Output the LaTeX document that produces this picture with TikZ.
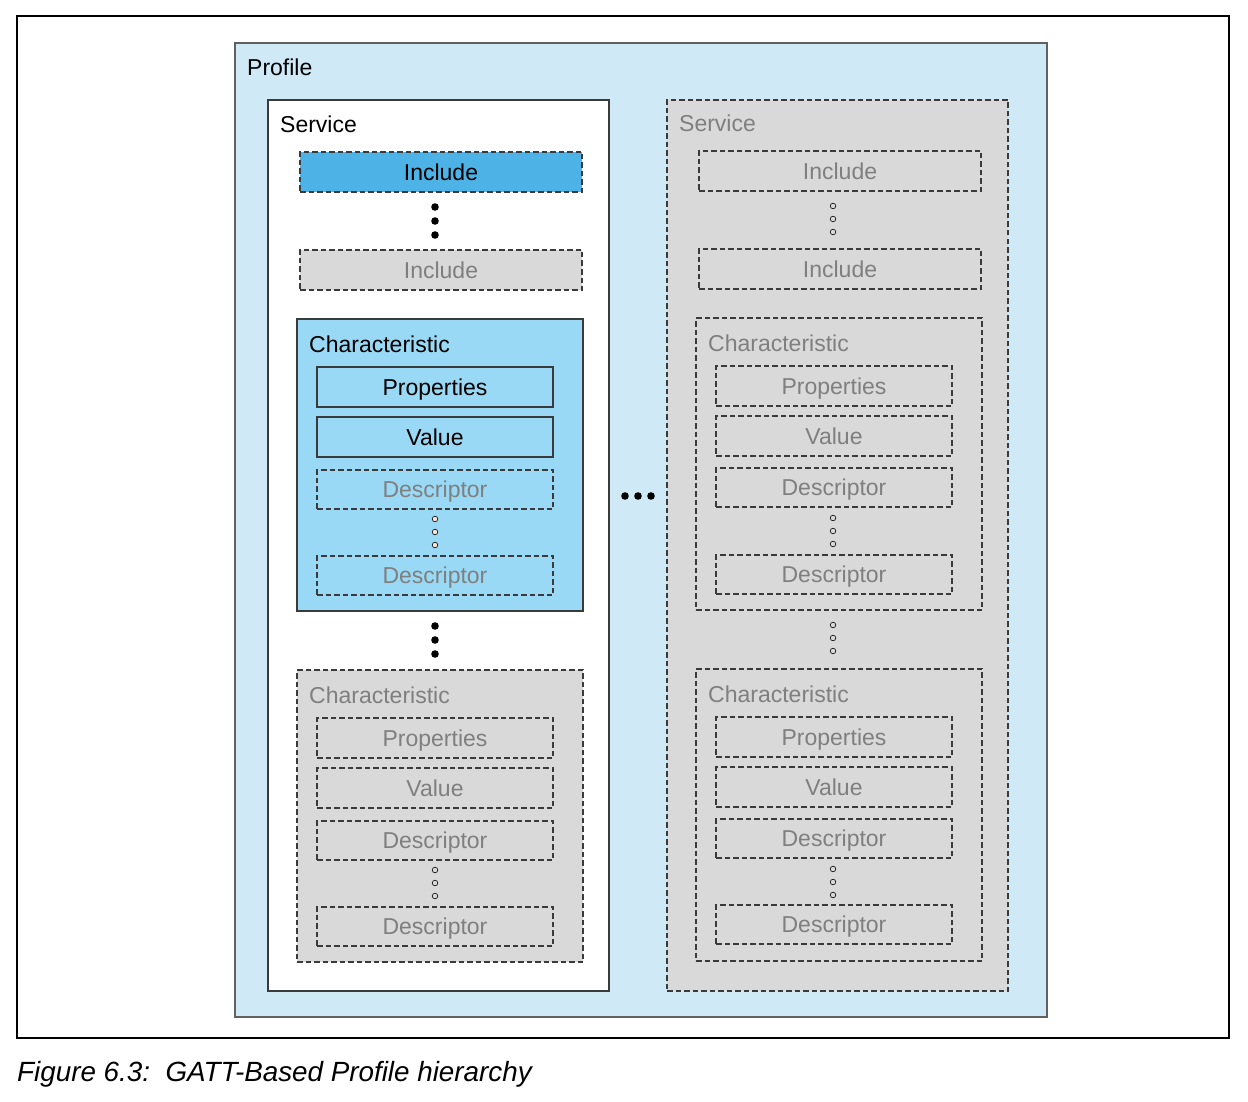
\documentclass[tikz,border=0pt]{standalone}
\usepackage{fontspec}
\setmainfont{Liberation Sans}
\definecolor{profilefill}{HTML}{CFE9F7}
\definecolor{incblue}{HTML}{4DB3E6}
\definecolor{charblue}{HTML}{99D9F5}
\definecolor{grayfill}{HTML}{D9D9D9}
\definecolor{graytext}{HTML}{7F7F7F}
\definecolor{edge}{HTML}{3A3A3A}
\definecolor{peach}{HTML}{FCE4D6}
\newcommand\rbox[7]{\node[#1, anchor=north west, minimum width={#5-#3}, minimum height={#6-#4}] (#2) at (#3,#4) {#7};}
\newcommand\bigdots[2]{\foreach \dy in {0,14,28} \fill (#1,#2+\dy) circle (3.8);}
\newcommand\smalldots[3]{\foreach \dy in {0,13,26} \filldraw[fill=#3, draw=black, line width=0.6] (#1,#2+\dy) circle (2.8);}
\begin{document}
\begin{tikzpicture}[x=1pt,y=-1pt,
  base/.style={inner sep=0, outer sep=0, font=\fontsize{23}{27}\selectfont, line width=1.2, text height=16.5, text depth=0},
  dsh/.style={dash pattern=on 5.5 off 3},
  activeinc/.style={base, draw=edge, dsh, fill=incblue, text=black},
  grayinc/.style={base, draw=edge, dsh, fill=grayfill, text=graytext},
  solidbox/.style={base, draw=edge, fill=charblue, text=black},
  bluedash/.style={base, draw=edge, dsh, fill=charblue, text=graytext},
  label/.style={inner sep=0, anchor=base west, font=\fontsize{23}{27}\selectfont},
]
\useasboundingbox (0,0) rectangle (1248,1102);
% outer frame
\draw[line width=2] (17,16) rectangle (1229,1038);
% profile
\rbox{base, draw=edge!80, fill=profilefill}{profile}{235}{43}{1047}{1017}{}
\node[label] (profilelbl) at (247,76) {Profile};
% left service
\rbox{base, draw=edge, fill=white}{svcL}{268}{100}{609}{991}{}
\node[label] (svcLlbl) at (280,133) {Service};
\rbox{activeinc}{incL1}{300}{152}{582}{192}{Include}
\bigdots{435}{207}
\rbox{grayinc}{incL2}{300}{250}{582}{290}{Include}
% characteristic 1 (left)
\rbox{base, draw=edge, fill=charblue}{charL1}{297}{319}{583}{611}{}
\node[label] (charL1lbl) at (309,352) {Characteristic};
\rbox{solidbox}{propL1}{317}{367}{553}{407}{Properties}
\rbox{solidbox}{valL1}{317}{417}{553}{457}{Value}
\rbox{bluedash}{descL1a}{317}{470}{553}{509}{Descriptor}
\smalldots{435}{519}{peach}
\rbox{bluedash}{descL1b}{317}{556}{553}{595}{Descriptor}
\bigdots{435}{626}
% characteristic 2 (left)
\rbox{grayinc}{charL2}{297}{670}{583}{962}{}
\node[label, text=graytext] (charL2lbl) at (309,703) {Characteristic};
\rbox{grayinc}{propL2}{317}{718}{553}{758}{Properties}
\rbox{grayinc}{valL2}{317}{768}{553}{808}{Value}
\rbox{grayinc}{descL2a}{317}{821}{553}{860}{Descriptor}
\smalldots{435}{870}{grayfill}
\rbox{grayinc}{descL2b}{317}{907}{553}{946}{Descriptor}
% ellipsis between services
\foreach \dx in {625,638,651} \fill (\dx,496) circle (3.8);
% right service
\rbox{grayinc}{svcR}{667}{100}{1008}{991}{}
\node[label, text=graytext] (svcRlbl) at (679,132) {Service};
\rbox{grayinc}{incR1}{699}{151}{981}{191}{Include}
\smalldots{833}{206}{grayfill}
\rbox{grayinc}{incR2}{699}{249}{981}{289}{Include}
% characteristic 1 (right)
\rbox{grayinc}{charR1}{696}{318}{982}{610}{}
\node[label, text=graytext] (charR1lbl) at (708,351) {Characteristic};
\rbox{grayinc}{propR1}{716}{366}{952}{406}{Properties}
\rbox{grayinc}{valR1}{716}{416}{952}{456}{Value}
\rbox{grayinc}{descR1a}{716}{468}{952}{507}{Descriptor}
\smalldots{833}{518}{grayfill}
\rbox{grayinc}{descR1b}{716}{555}{952}{594}{Descriptor}
\smalldots{833}{625}{grayfill}
% characteristic 2 (right)
\rbox{grayinc}{charR2}{696}{669}{982}{961}{}
\node[label, text=graytext] (charR2lbl) at (708,702) {Characteristic};
\rbox{grayinc}{propR2}{716}{717}{952}{757}{Properties}
\rbox{grayinc}{valR2}{716}{767}{952}{807}{Value}
\rbox{grayinc}{descR2a}{716}{819}{952}{858}{Descriptor}
\smalldots{833}{869}{grayfill}
\rbox{grayinc}{descR2b}{716}{905}{952}{944}{Descriptor}
% caption
\node[label, font=\fontsize{27.8}{32}\selectfont\itshape] (caption) at (17,1081) {Figure 6.3:\ \ GATT-Based Profile hierarchy};
\end{tikzpicture}
\end{document}
